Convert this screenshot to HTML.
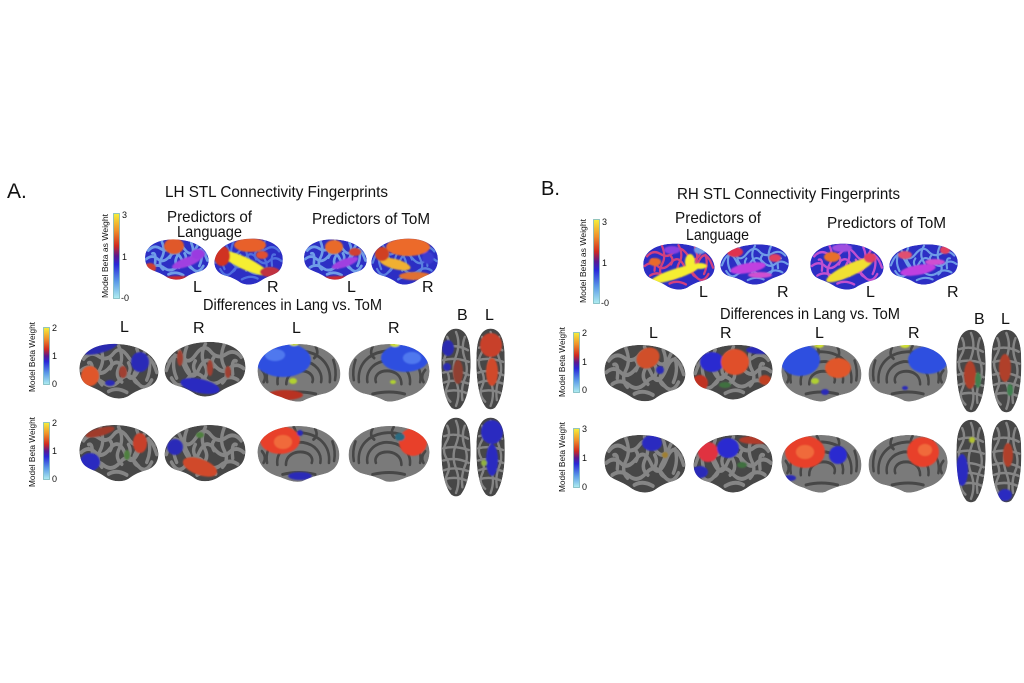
<!DOCTYPE html>
<html><head><meta charset="utf-8"><style>
html,body{margin:0;padding:0;background:#fff;}
svg{display:block;}
text{font-family:"Liberation Sans",sans-serif;fill:#111;}
</style></head><body>
<svg width="1024" height="683" viewBox="0 0 1024 683" xmlns="http://www.w3.org/2000/svg">
<defs>
<linearGradient id="cb" x1="0" y1="0" x2="0" y2="1">
<stop offset="0" stop-color="#f5f03a"/><stop offset="0.2" stop-color="#f0902a"/><stop offset="0.38" stop-color="#d02a20"/><stop offset="0.5" stop-color="#5a1890"/><stop offset="0.6" stop-color="#2828d8"/><stop offset="0.8" stop-color="#5a9ae8"/><stop offset="1" stop-color="#b0eef0"/>
</linearGradient>
<path id="latP" d="M3,28 C3,12 20,2 45,2 C72,2 95,12 98,30 C99,40 92,46 84,48 C76,50 70,52 62,57 C54,61 42,60 34,55 C26,50 18,48 12,45 C6,42 3,36 3,28 Z"/>
<path id="medP" d="M3,30 C2,13 22,2 50,2 C76,2 97,13 98,30 C99,43 90,50 78,52 C68,54 62,56 55,59 C47,61 38,58 30,55 C18,52 4,46 3,30 Z"/>
<path id="dorP" d="M20,2 C32,2 38,15 38,35 C39,60 36,85 26,97 C22,100 18,100 14,97 C4,85 1,60 2,35 C2,15 8,2 20,2 Z"/>
<g id="gyri" fill="none" stroke-linecap="round">
<path d="M8,18 Q16,9 26,15 T44,12 T62,16 T80,13 T96,22"/>
<path d="M5,30 Q14,23 22,30 T40,26 T58,31 T76,26 T96,32"/>
<path d="M12,42 Q22,36 32,43 T52,40 T72,42 T90,40"/>
<path d="M28,5 Q34,18 28,28 T30,45"/>
<path d="M50,4 Q57,16 51,26 T54,42"/>
<path d="M72,7 Q78,20 71,30 T74,44"/>
<path d="M38,52 Q48,47 60,53"/>
<path d="M14,22 Q20,20 18,36"/>
<path d="M86,16 Q90,28 84,40"/>
<path d="M40,18 Q44,22 40,28"/>
<path d="M62,22 Q66,28 62,34"/>
</g>
<g id="gyriM" fill="none" stroke-linecap="round">
<path d="M14,40 C10,20 32,8 52,9 C74,10 88,22 86,40"/>
<path d="M26,42 C24,27 40,18 56,19 C70,21 78,30 76,40"/>
<path d="M36,42 C36,32 46,28 56,29 C64,30 68,35 66,40"/>
<path d="M20,6 Q26,16 20,24"/><path d="M45,3 Q50,10 44,14"/><path d="M70,5 Q74,12 68,16"/>
<path d="M90,18 Q94,28 92,38"/><path d="M32,52 Q50,48 70,52"/>
<path d="M8,28 Q14,34 10,40"/>
</g>
<g id="gyriD" fill="none" stroke-linecap="round">
<path d="M9,12 Q14,22 8,32 T8,52 T9,72 T13,90"/>
<path d="M20,6 Q26,20 20,35 T20,65 T20,95"/>
<path d="M31,12 Q26,25 31,38 T31,62 T28,88"/>
<path d="M5,25 Q20,20 35,28"/><path d="M4,55 Q20,50 36,58"/><path d="M6,78 Q20,74 34,80"/>
<path d="M4,40 Q18,36 36,42"/><path d="M5,67 Q18,62 35,68"/>
</g>
<filter id="bl" x="-20%" y="-20%" width="140%" height="140%"><feGaussianBlur stdDeviation="0.8"/></filter>
</defs>

<clipPath id="ca1"><use href="#latP" transform="translate(143,238) scale(0.67,0.70)"/></clipPath>
<clipPath id="ca2"><use href="#latP" transform="translate(285,237) scale(-0.72,0.80)"/></clipPath>
<clipPath id="ca3"><use href="#latP" transform="translate(302,238) scale(0.66,0.70)"/></clipPath>
<clipPath id="ca4"><use href="#latP" transform="translate(440,237) scale(-0.70,0.80)"/></clipPath>
<clipPath id="cb1"><use href="#latP" transform="translate(641,242) scale(0.75,0.80)"/></clipPath>
<clipPath id="cb2"><use href="#latP" transform="translate(791,243) scale(-0.72,0.70)"/></clipPath>
<clipPath id="cb3"><use href="#latP" transform="translate(808,242) scale(0.77,0.80)"/></clipPath>
<clipPath id="cb4"><use href="#latP" transform="translate(960,243) scale(-0.72,0.70)"/></clipPath>

<clipPath id="r1a"><use href="#latP" transform="translate(77,342) scale(0.83,0.95)"/></clipPath>
<clipPath id="r1b"><use href="#latP" transform="translate(248,340) scale(-0.85,0.95)"/></clipPath>
<clipPath id="r1c"><use href="#medP" transform="translate(255,342) scale(0.87,1.0)"/></clipPath>
<clipPath id="r1d"><use href="#medP" transform="translate(432,342) scale(-0.85,1.0)"/></clipPath>
<clipPath id="r1e"><use href="#dorP" transform="translate(440,327) scale(0.80,0.83)"/></clipPath>
<clipPath id="r1f"><use href="#dorP" transform="translate(475,327) scale(0.78,0.83)"/></clipPath>
<clipPath id="r2a"><use href="#latP" transform="translate(77,423) scale(0.83,0.98)"/></clipPath>
<clipPath id="r2b"><use href="#latP" transform="translate(248,423) scale(-0.85,0.98)"/></clipPath>
<clipPath id="r2c"><use href="#medP" transform="translate(255,424) scale(0.86,0.97)"/></clipPath>
<clipPath id="r2d"><use href="#medP" transform="translate(432,424) scale(-0.85,0.97)"/></clipPath>
<clipPath id="r2e"><use href="#dorP" transform="translate(440,416) scale(0.80,0.81)"/></clipPath>
<clipPath id="r2f"><use href="#dorP" transform="translate(475,416) scale(0.78,0.81)"/></clipPath>

<clipPath id="s1a"><use href="#latP" transform="translate(602,343) scale(0.85,0.98)"/></clipPath>
<clipPath id="s1b"><use href="#latP" transform="translate(775,343) scale(-0.83,0.95)"/></clipPath>
<clipPath id="s1c"><use href="#medP" transform="translate(779,343) scale(0.84,0.98)"/></clipPath>
<clipPath id="s1d"><use href="#medP" transform="translate(950,343) scale(-0.83,0.98)"/></clipPath>
<clipPath id="s1e"><use href="#dorP" transform="translate(955,328) scale(0.80,0.85)"/></clipPath>
<clipPath id="s1f"><use href="#dorP" transform="translate(990,328) scale(0.82,0.85)"/></clipPath>
<clipPath id="s2a"><use href="#latP" transform="translate(602,433) scale(0.85,1.0)"/></clipPath>
<clipPath id="s2b"><use href="#latP" transform="translate(775,433) scale(-0.83,1.0)"/></clipPath>
<clipPath id="s2c"><use href="#medP" transform="translate(779,433) scale(0.84,1.0)"/></clipPath>
<clipPath id="s2d"><use href="#medP" transform="translate(950,433) scale(-0.83,1.0)"/></clipPath>
<clipPath id="s2e"><use href="#dorP" transform="translate(955,418) scale(0.80,0.85)"/></clipPath>
<clipPath id="s2f"><use href="#dorP" transform="translate(990,418) scale(0.82,0.85)"/></clipPath>

<!-- ========== Panel A text ========== -->
<text x="7" y="198" font-size="21">A.</text>
<text x="165" y="197" font-size="16" textLength="223" lengthAdjust="spacingAndGlyphs">LH STL Connectivity Fingerprints</text>
<text x="167" y="222" font-size="16" textLength="85" lengthAdjust="spacingAndGlyphs">Predictors of</text>
<text x="177" y="237" font-size="16" textLength="65" lengthAdjust="spacingAndGlyphs">Language</text>
<text x="312" y="224" font-size="16" textLength="118" lengthAdjust="spacingAndGlyphs">Predictors of ToM</text>
<text x="193" y="292" font-size="16">L</text>
<text x="267" y="292" font-size="16">R</text>
<text x="347" y="292" font-size="16">L</text>
<text x="422" y="292" font-size="16">R</text>
<text x="203" y="310" font-size="16" textLength="179" lengthAdjust="spacingAndGlyphs">Differences in Lang vs. ToM</text>
<text x="120" y="332" font-size="16">L</text>
<text x="193" y="333" font-size="16">R</text>
<text x="292" y="333" font-size="16">L</text>
<text x="388" y="333" font-size="16">R</text>
<text x="457" y="320" font-size="16">B</text>
<text x="485" y="320" font-size="16">L</text>

<rect x="113.5" y="213.5" width="6" height="85" fill="url(#cb)" stroke="#7ab8c0" stroke-width="0.8"/>
<text x="122" y="218" font-size="9">3</text><text x="122" y="260" font-size="9">1</text><text x="121" y="301" font-size="9">-0</text>
<text transform="translate(108,256) rotate(-90)" font-size="8" text-anchor="middle" textLength="84" lengthAdjust="spacingAndGlyphs">Model Beta as Weight</text>
<rect x="43.5" y="327.5" width="6" height="57" fill="url(#cb)" stroke="#7ab8c0" stroke-width="0.8"/>
<text x="52" y="331" font-size="9">2</text><text x="52" y="359" font-size="9">1</text><text x="52" y="387" font-size="9">0</text>
<text transform="translate(35,357) rotate(-90)" font-size="8" text-anchor="middle" textLength="70" lengthAdjust="spacingAndGlyphs">Model Beta Weight</text>
<rect x="43.5" y="422.5" width="6" height="57" fill="url(#cb)" stroke="#7ab8c0" stroke-width="0.8"/>
<text x="52" y="426" font-size="9">2</text><text x="52" y="454" font-size="9">1</text><text x="52" y="482" font-size="9">0</text>
<text transform="translate(35,452) rotate(-90)" font-size="8" text-anchor="middle" textLength="70" lengthAdjust="spacingAndGlyphs">Model Beta Weight</text>

<!-- ========== Panel B text ========== -->
<text x="541" y="195" font-size="20">B.</text>
<text x="677" y="199" font-size="16" textLength="223" lengthAdjust="spacingAndGlyphs">RH STL Connectivity Fingerprints</text>
<text x="675" y="223" font-size="16" textLength="86" lengthAdjust="spacingAndGlyphs">Predictors of</text>
<text x="686" y="240" font-size="16" textLength="63" lengthAdjust="spacingAndGlyphs">Language</text>
<text x="827" y="228" font-size="16" textLength="119" lengthAdjust="spacingAndGlyphs">Predictors of ToM</text>
<text x="699" y="297" font-size="16">L</text>
<text x="777" y="297" font-size="16">R</text>
<text x="866" y="297" font-size="16">L</text>
<text x="947" y="297" font-size="16">R</text>
<text x="720" y="319" font-size="16" textLength="180" lengthAdjust="spacingAndGlyphs">Differences in Lang vs. ToM</text>
<text x="649" y="338" font-size="16">L</text>
<text x="720" y="338" font-size="16">R</text>
<text x="815" y="338" font-size="16">L</text>
<text x="908" y="338" font-size="16">R</text>
<text x="974" y="324" font-size="16">B</text>
<text x="1001" y="324" font-size="16">L</text>

<rect x="593.5" y="219.5" width="6" height="84" fill="url(#cb)" stroke="#7ab8c0" stroke-width="0.8"/>
<text x="602" y="225" font-size="9">3</text><text x="602" y="266" font-size="9">1</text><text x="601" y="306" font-size="9">-0</text>
<text transform="translate(586,261) rotate(-90)" font-size="8" text-anchor="middle" textLength="84" lengthAdjust="spacingAndGlyphs">Model Beta as Weight</text>
<rect x="573.5" y="332.5" width="6" height="60" fill="url(#cb)" stroke="#7ab8c0" stroke-width="0.8"/>
<text x="582" y="336" font-size="9">2</text><text x="582" y="365" font-size="9">1</text><text x="582" y="393" font-size="9">0</text>
<text transform="translate(565,362) rotate(-90)" font-size="8" text-anchor="middle" textLength="70" lengthAdjust="spacingAndGlyphs">Model Beta Weight</text>
<rect x="573.5" y="428.5" width="6" height="59" fill="url(#cb)" stroke="#7ab8c0" stroke-width="0.8"/>
<text x="582" y="432" font-size="9">3</text><text x="582" y="461" font-size="9">1</text><text x="582" y="490" font-size="9">0</text>
<text transform="translate(565,457) rotate(-90)" font-size="8" text-anchor="middle" textLength="70" lengthAdjust="spacingAndGlyphs">Model Beta Weight</text>

<!-- ========== Colorful top brains A ========== -->
<g clip-path="url(#ca1)">
<use href="#latP" transform="translate(143,238) scale(0.67,0.70)" fill="#2c2ec4"/>
<use href="#gyri" transform="translate(143,238) scale(0.67,0.70)" stroke="#6f9ce8" stroke-width="4"/>
<g filter="url(#bl)">
<ellipse cx="174" cy="246" rx="10" ry="8" fill="#e0582a"/>
<ellipse cx="187" cy="262" rx="16" ry="4.5" transform="rotate(-20 187 262)" fill="#a040e0"/>
<ellipse cx="198" cy="254" rx="7" ry="5" fill="#9a3ae0"/>
<ellipse cx="178" cy="281" rx="22" ry="5" fill="#c82a30"/>
<ellipse cx="150" cy="268" rx="6" ry="5" fill="#d04030"/>
</g></g>
<g clip-path="url(#ca2)">
<use href="#latP" transform="translate(285,237) scale(-0.72,0.80)" fill="#2c2ec4"/>
<use href="#gyri" transform="translate(285,237) scale(-0.72,0.80)" stroke="#4f6ee0" stroke-width="3"/>
<g filter="url(#bl)">
<ellipse cx="250" cy="245" rx="16" ry="7" fill="#e8602a"/>
<ellipse cx="244" cy="263" rx="27" ry="6" transform="rotate(25 244 263)" fill="#f5ee30"/>
<ellipse cx="222" cy="256" rx="8" ry="10" fill="#d03020"/>
<ellipse cx="270" cy="272" rx="10" ry="5" fill="#c03040"/>
<ellipse cx="262" cy="255" rx="6" ry="4" fill="#e05030"/>
</g></g>
<g clip-path="url(#ca3)">
<use href="#latP" transform="translate(302,238) scale(0.66,0.70)" fill="#2c2ec4"/>
<use href="#gyri" transform="translate(302,238) scale(0.66,0.70)" stroke="#6f9ce8" stroke-width="4"/>
<g filter="url(#bl)">
<ellipse cx="334" cy="247" rx="9" ry="7" fill="#e86a2a"/>
<ellipse cx="345" cy="263" rx="14" ry="4" transform="rotate(-20 345 263)" fill="#a040e0"/>
<ellipse cx="338" cy="281" rx="22" ry="5" fill="#c82a30"/>
<ellipse cx="355" cy="252" rx="6" ry="4" fill="#d04030"/>
</g></g>
<g clip-path="url(#ca4)">
<use href="#latP" transform="translate(440,237) scale(-0.70,0.80)" fill="#2c2ec4"/>
<use href="#gyri" transform="translate(440,237) scale(-0.70,0.80)" stroke="#5a80e0" stroke-width="3"/>
<g filter="url(#bl)">
<ellipse cx="408" cy="247" rx="22" ry="9" fill="#ec6a2a"/>
<ellipse cx="395" cy="264" rx="16" ry="5" transform="rotate(15 395 264)" fill="#f0b030"/>
<ellipse cx="382" cy="254" rx="7" ry="7" fill="#d04020"/>
<ellipse cx="415" cy="276" rx="16" ry="4" fill="#e07030"/>
<ellipse cx="428" cy="258" rx="6" ry="6" fill="#3a3ad0"/>
</g></g>

<!-- ========== Colorful top brains B ========== -->
<g clip-path="url(#cb1)">
<use href="#latP" transform="translate(641,242) scale(0.75,0.80)" fill="#2c2ec4"/>
<use href="#gyri" transform="translate(641,242) scale(0.75,0.80)" stroke="#d04080" stroke-width="3"/>
<g filter="url(#bl)">
<ellipse cx="675" cy="274" rx="26" ry="5" transform="rotate(-18 675 274)" fill="#f5ee30"/>
<ellipse cx="690" cy="262" rx="5" ry="8" fill="#f5ee30"/>
<ellipse cx="700" cy="266" rx="7" ry="3" fill="#f5ee30"/>
<ellipse cx="655" cy="262" rx="6" ry="4" fill="#e86a2a"/>
<ellipse cx="672" cy="250" rx="8" ry="4" fill="#8a40e0"/>
<ellipse cx="700" cy="250" rx="6" ry="4" fill="#6f9ce8"/>
</g></g>
<g clip-path="url(#cb2)">
<use href="#latP" transform="translate(791,243) scale(-0.72,0.70)" fill="#2c2ec4"/>
<use href="#gyri" transform="translate(791,243) scale(-0.72,0.70)" stroke="#6f9ce8" stroke-width="3"/>
<g filter="url(#bl)">
<ellipse cx="748" cy="268" rx="18" ry="5" transform="rotate(-10 748 268)" fill="#c040e0"/>
<ellipse cx="735" cy="252" rx="8" ry="5" fill="#e03050"/>
<ellipse cx="760" cy="275" rx="12" ry="3" fill="#d050d0"/>
<ellipse cx="775" cy="258" rx="6" ry="4" fill="#e04060"/>
</g></g>
<g clip-path="url(#cb3)">
<use href="#latP" transform="translate(808,242) scale(0.77,0.80)" fill="#2c2ec4"/>
<use href="#gyri" transform="translate(808,242) scale(0.77,0.80)" stroke="#c050d0" stroke-width="3"/>
<g filter="url(#bl)">
<ellipse cx="850" cy="270" rx="26" ry="6" transform="rotate(-25 850 270)" fill="#f0e030"/>
<ellipse cx="832" cy="257" rx="8" ry="5" fill="#e8702a"/>
<ellipse cx="842" cy="248" rx="10" ry="4" fill="#a050e0"/>
<ellipse cx="870" cy="258" rx="6" ry="5" fill="#e04060"/>
</g></g>
<g clip-path="url(#cb4)">
<use href="#latP" transform="translate(960,243) scale(-0.72,0.70)" fill="#2c2ec4"/>
<use href="#gyri" transform="translate(960,243) scale(-0.72,0.70)" stroke="#6f9ce8" stroke-width="3"/>
<g filter="url(#bl)">
<ellipse cx="918" cy="270" rx="18" ry="5" transform="rotate(-10 918 270)" fill="#c040e0"/>
<ellipse cx="905" cy="255" rx="7" ry="4" fill="#e05070"/>
<ellipse cx="935" cy="262" rx="10" ry="3" fill="#d050d0"/>
<ellipse cx="945" cy="250" rx="5" ry="4" fill="#e04060"/>
</g></g>

<!-- ========== Gray brains A row1 ========== -->
<g clip-path="url(#r1a)">
<use href="#latP" transform="translate(77,342) scale(0.83,0.95)" fill="#474747"/>
<use href="#gyri" transform="translate(77,342) scale(0.83,0.95)" stroke="#858585" stroke-width="4"/>
<g filter="url(#bl)">
<ellipse cx="100" cy="348" rx="18" ry="5" transform="rotate(-15 100 348)" fill="#2a2ab0"/>
<ellipse cx="140" cy="362" rx="9" ry="10" fill="#2a2ab8"/>
<ellipse cx="90" cy="376" rx="9" ry="10" fill="#e0562a"/>
<ellipse cx="110" cy="383" rx="5" ry="3" fill="#2a2ab8"/>
<ellipse cx="123" cy="372" rx="4" ry="6" fill="#a04030"/>
</g></g>
<g clip-path="url(#r1b)">
<use href="#latP" transform="translate(248,340) scale(-0.85,0.95)" fill="#474747"/>
<use href="#gyri" transform="translate(248,340) scale(-0.85,0.95)" stroke="#858585" stroke-width="4"/>
<g filter="url(#bl)">
<ellipse cx="200" cy="386" rx="20" ry="7" transform="rotate(12 200 386)" fill="#2a2ac0"/>
<ellipse cx="180" cy="358" rx="3" ry="8" fill="#a04030"/>
<ellipse cx="210" cy="368" rx="3" ry="8" fill="#a04030"/>
<ellipse cx="228" cy="372" rx="3" ry="6" fill="#a04030"/>
</g></g>
<g clip-path="url(#r1c)">
<use href="#medP" transform="translate(255,342) scale(0.87,1.0)" fill="#7a7a7a"/>
<use href="#gyriM" transform="translate(255,342) scale(0.87,1.0)" stroke="#474747" stroke-width="3"/>
<g filter="url(#bl)">
<ellipse cx="283" cy="360" rx="28" ry="17" fill="#2e50e0"/>
<ellipse cx="275" cy="355" rx="10" ry="6" fill="#4f78ee"/>
<ellipse cx="294" cy="343" rx="5" ry="3" fill="#d0e030"/>
<ellipse cx="293" cy="381" rx="4" ry="3" fill="#b0d030"/>
<ellipse cx="285" cy="395" rx="18" ry="5" fill="#b83020"/>
</g></g>
<g clip-path="url(#r1d)">
<use href="#medP" transform="translate(432,342) scale(-0.85,1.0)" fill="#7a7a7a"/>
<use href="#gyriM" transform="translate(432,342) scale(-0.85,1.0)" stroke="#474747" stroke-width="3"/>
<g filter="url(#bl)">
<ellipse cx="405" cy="358" rx="24" ry="14" fill="#2e50e0"/>
<ellipse cx="412" cy="358" rx="9" ry="6" fill="#4f78ee"/>
<ellipse cx="395" cy="344" rx="5" ry="3" fill="#d0e030"/>
<ellipse cx="393" cy="382" rx="3" ry="2" fill="#b0d030"/>
</g></g>
<g clip-path="url(#r1e)">
<use href="#dorP" transform="translate(440,327) scale(0.80,0.83)" fill="#474747"/>
<use href="#gyriD" transform="translate(440,327) scale(0.80,0.83)" stroke="#858585" stroke-width="3"/>
<g filter="url(#bl)">
<ellipse cx="448" cy="348" rx="6" ry="8" fill="#2a2ab0"/>
<ellipse cx="458" cy="372" rx="5" ry="12" fill="#904030"/>
<ellipse cx="447" cy="367" rx="4" ry="4" fill="#2a2ab0"/>
</g></g>
<g clip-path="url(#r1f)">
<use href="#dorP" transform="translate(475,327) scale(0.78,0.83)" fill="#474747"/>
<use href="#gyriD" transform="translate(475,327) scale(0.78,0.83)" stroke="#858585" stroke-width="3"/>
<g filter="url(#bl)">
<ellipse cx="491" cy="345" rx="11" ry="12" fill="#c8402a"/>
<ellipse cx="492" cy="372" rx="6" ry="14" fill="#d04a2a"/>
</g></g>

<!-- ========== Gray brains A row2 ========== -->
<g clip-path="url(#r2a)">
<use href="#latP" transform="translate(77,423) scale(0.83,0.98)" fill="#474747"/>
<use href="#gyri" transform="translate(77,423) scale(0.83,0.98)" stroke="#858585" stroke-width="4"/>
<g filter="url(#bl)">
<ellipse cx="90" cy="462" rx="10" ry="9" fill="#2a2ac0"/>
<ellipse cx="140" cy="443" rx="7" ry="10" fill="#c8402a"/>
<ellipse cx="100" cy="432" rx="15" ry="4" transform="rotate(-15 100 432)" fill="#a03a2a"/>
<ellipse cx="127" cy="455" rx="3" ry="5" fill="#508040"/>
</g></g>
<g clip-path="url(#r2b)">
<use href="#latP" transform="translate(248,423) scale(-0.85,0.98)" fill="#474747"/>
<use href="#gyri" transform="translate(248,423) scale(-0.85,0.98)" stroke="#858585" stroke-width="4"/>
<g filter="url(#bl)">
<ellipse cx="200" cy="467" rx="18" ry="8" transform="rotate(20 200 467)" fill="#d04a2a"/>
<ellipse cx="175" cy="447" rx="8" ry="8" fill="#2a2ab8"/>
<ellipse cx="200" cy="435" rx="4" ry="3" fill="#508040"/>
</g></g>
<g clip-path="url(#r2c)">
<use href="#medP" transform="translate(255,424) scale(0.86,0.97)" fill="#7a7a7a"/>
<use href="#gyriM" transform="translate(255,424) scale(0.86,0.97)" stroke="#474747" stroke-width="3"/>
<g filter="url(#bl)">
<ellipse cx="280" cy="440" rx="20" ry="14" fill="#e8402a"/>
<ellipse cx="283" cy="442" rx="9" ry="7" fill="#f06a3a"/>
<ellipse cx="300" cy="476" rx="12" ry="4" fill="#2a2ab8"/>
<ellipse cx="300" cy="433" rx="3" ry="3" fill="#2a2ab8"/>
</g></g>
<g clip-path="url(#r2d)">
<use href="#medP" transform="translate(432,424) scale(-0.85,0.97)" fill="#7a7a7a"/>
<use href="#gyriM" transform="translate(432,424) scale(-0.85,0.97)" stroke="#474747" stroke-width="3"/>
<g filter="url(#bl)">
<ellipse cx="413" cy="442" rx="14" ry="14" fill="#e8402a"/>
<ellipse cx="400" cy="437" rx="5" ry="4" fill="#2a6a80"/>
</g></g>
<g clip-path="url(#r2e)">
<use href="#dorP" transform="translate(440,416) scale(0.80,0.81)" fill="#474747"/>
<use href="#gyriD" transform="translate(440,416) scale(0.80,0.81)" stroke="#858585" stroke-width="3"/>
</g>
<g clip-path="url(#r2f)">
<use href="#dorP" transform="translate(475,416) scale(0.78,0.81)" fill="#474747"/>
<use href="#gyriD" transform="translate(475,416) scale(0.78,0.81)" stroke="#858585" stroke-width="3"/>
<g filter="url(#bl)">
<ellipse cx="492" cy="432" rx="11" ry="12" fill="#2a2ac0"/>
<ellipse cx="492" cy="460" rx="6" ry="16" fill="#2a2ac0"/>
<ellipse cx="484" cy="463" rx="3" ry="3" fill="#90b040"/>
</g></g>

<!-- ========== Gray brains B row1 ========== -->
<g clip-path="url(#s1a)">
<use href="#latP" transform="translate(602,343) scale(0.85,0.98)" fill="#474747"/>
<use href="#gyri" transform="translate(602,343) scale(0.85,0.98)" stroke="#858585" stroke-width="4"/>
<g filter="url(#bl)">
<ellipse cx="648" cy="358" rx="12" ry="10" transform="rotate(-30 648 358)" fill="#d0502a"/>
<ellipse cx="660" cy="370" rx="4" ry="4" fill="#2a2ab8"/>
</g></g>
<g clip-path="url(#s1b)">
<use href="#latP" transform="translate(775,343) scale(-0.83,0.95)" fill="#474747"/>
<use href="#gyri" transform="translate(775,343) scale(-0.83,0.95)" stroke="#858585" stroke-width="4"/>
<g filter="url(#bl)">
<ellipse cx="712" cy="362" rx="12" ry="10" fill="#2a2ad0"/>
<ellipse cx="735" cy="362" rx="14" ry="13" fill="#e0502a"/>
<ellipse cx="700" cy="383" rx="8" ry="8" fill="#c03020"/>
<ellipse cx="760" cy="350" rx="14" ry="4" fill="#2a2ab8"/>
<ellipse cx="725" cy="385" rx="6" ry="3" fill="#407040"/>
<ellipse cx="765" cy="380" rx="6" ry="5" fill="#c04020"/>
</g></g>
<g clip-path="url(#s1c)">
<use href="#medP" transform="translate(779,343) scale(0.84,0.98)" fill="#7a7a7a"/>
<use href="#gyriM" transform="translate(779,343) scale(0.84,0.98)" stroke="#474747" stroke-width="3"/>
<g filter="url(#bl)">
<ellipse cx="800" cy="360" rx="20" ry="16" fill="#2e50e0"/>
<ellipse cx="838" cy="368" rx="13" ry="10" fill="#e0562a"/>
<ellipse cx="819" cy="345" rx="5" ry="3" fill="#d0e030"/>
<ellipse cx="815" cy="381" rx="4" ry="3" fill="#b0d030"/>
<ellipse cx="825" cy="392" rx="4" ry="3" fill="#2a2ab8"/>
</g></g>
<g clip-path="url(#s1d)">
<use href="#medP" transform="translate(950,343) scale(-0.83,0.98)" fill="#7a7a7a"/>
<use href="#gyriM" transform="translate(950,343) scale(-0.83,0.98)" stroke="#474747" stroke-width="3"/>
<g filter="url(#bl)">
<ellipse cx="928" cy="360" rx="20" ry="14" fill="#2e50e0"/>
<ellipse cx="905" cy="345" rx="5" ry="3" fill="#d0e030"/>
<ellipse cx="905" cy="388" rx="3" ry="2" fill="#2a2ab8"/>
</g></g>
<g clip-path="url(#s1e)">
<use href="#dorP" transform="translate(955,328) scale(0.80,0.85)" fill="#474747"/>
<use href="#gyriD" transform="translate(955,328) scale(0.80,0.85)" stroke="#858585" stroke-width="3"/>
<g filter="url(#bl)">
<ellipse cx="970" cy="375" rx="6" ry="14" fill="#b0402a"/>
<ellipse cx="978" cy="380" rx="3" ry="8" fill="#408050"/>
</g></g>
<g clip-path="url(#s1f)">
<use href="#dorP" transform="translate(990,328) scale(0.82,0.85)" fill="#474747"/>
<use href="#gyriD" transform="translate(990,328) scale(0.82,0.85)" stroke="#858585" stroke-width="3"/>
<g filter="url(#bl)">
<ellipse cx="1005" cy="368" rx="6" ry="14" fill="#b0402a"/>
<ellipse cx="1010" cy="390" rx="3" ry="6" fill="#408050"/>
</g></g>

<!-- ========== Gray brains B row2 ========== -->
<g clip-path="url(#s2a)">
<use href="#latP" transform="translate(602,433) scale(0.85,1.0)" fill="#474747"/>
<use href="#gyri" transform="translate(602,433) scale(0.85,1.0)" stroke="#858585" stroke-width="4"/>
<g filter="url(#bl)">
<ellipse cx="652" cy="443" rx="10" ry="8" fill="#2a2ac0"/>
<ellipse cx="665" cy="455" rx="3" ry="3" fill="#a08030"/>
</g></g>
<g clip-path="url(#s2b)">
<use href="#latP" transform="translate(775,433) scale(-0.83,1.0)" fill="#474747"/>
<use href="#gyri" transform="translate(775,433) scale(-0.83,1.0)" stroke="#858585" stroke-width="4"/>
<g filter="url(#bl)">
<ellipse cx="708" cy="452" rx="10" ry="10" fill="#e03040"/>
<ellipse cx="728" cy="448" rx="11" ry="10" fill="#2a2ad0"/>
<ellipse cx="700" cy="472" rx="8" ry="6" fill="#2a2ab8"/>
<ellipse cx="755" cy="440" rx="16" ry="4" fill="#b03a2a"/>
<ellipse cx="742" cy="465" rx="5" ry="3" fill="#407040"/>
</g></g>
<g clip-path="url(#s2c)">
<use href="#medP" transform="translate(779,433) scale(0.84,1.0)" fill="#7a7a7a"/>
<use href="#gyriM" transform="translate(779,433) scale(0.84,1.0)" stroke="#474747" stroke-width="3"/>
<g filter="url(#bl)">
<ellipse cx="805" cy="452" rx="20" ry="16" fill="#e8402a"/>
<ellipse cx="805" cy="452" rx="9" ry="7" fill="#f06a3a"/>
<ellipse cx="838" cy="455" rx="9" ry="9" fill="#2a2ad0"/>
<ellipse cx="790" cy="478" rx="6" ry="3" fill="#2a2ab8"/>
</g></g>
<g clip-path="url(#s2d)">
<use href="#medP" transform="translate(950,433) scale(-0.83,1.0)" fill="#7a7a7a"/>
<use href="#gyriM" transform="translate(950,433) scale(-0.83,1.0)" stroke="#474747" stroke-width="3"/>
<g filter="url(#bl)">
<ellipse cx="923" cy="452" rx="16" ry="15" fill="#e8402a"/>
<ellipse cx="925" cy="450" rx="7" ry="6" fill="#f06a3a"/>
</g></g>
<g clip-path="url(#s2e)">
<use href="#dorP" transform="translate(955,418) scale(0.80,0.85)" fill="#474747"/>
<use href="#gyriD" transform="translate(955,418) scale(0.80,0.85)" stroke="#858585" stroke-width="3"/>
<g filter="url(#bl)">
<ellipse cx="962" cy="470" rx="6" ry="16" fill="#2a2ac0"/>
<ellipse cx="972" cy="440" rx="3" ry="3" fill="#b0c030"/>
</g></g>
<g clip-path="url(#s2f)">
<use href="#dorP" transform="translate(990,418) scale(0.82,0.85)" fill="#474747"/>
<use href="#gyriD" transform="translate(990,418) scale(0.82,0.85)" stroke="#858585" stroke-width="3"/>
<g filter="url(#bl)">
<ellipse cx="1008" cy="455" rx="5" ry="12" fill="#b0402a"/>
<ellipse cx="1005" cy="495" rx="7" ry="6" fill="#2a2ac0"/>
</g></g>
</svg>
</body></html>
